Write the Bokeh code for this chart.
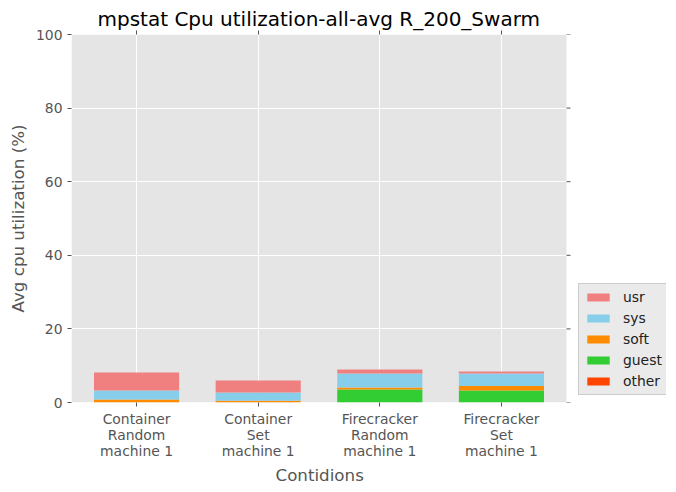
from bokeh.plotting import figure
from bokeh.models import (ColumnDataSource, Range1d, FixedTicker, LinearAxis, Legend,
                          LegendItem, Title, BoxAnnotation)
from bokeh.embed import file_html
from bokeh.resources import INLINE

conditions = ["Container\nRandom\nmachine 1", "Container\nSet\nmachine 1",
              "Firecracker\nRandom\nmachine 1", "Firecracker\nSet\nmachine 1"]
other = [0.0, 0.0, 0.0, 0.0]
guest = [0.0, 0.0, 3.5, 3.25]
soft = [0.8, 0.5, 0.55, 1.2]
sys_ = [2.45, 2.2, 3.8, 3.45]
usr = [4.9, 3.3, 1.1, 0.55]

series = ["other", "guest", "soft", "sys", "usr"]
colors = ["#FF4500", "#32CD32", "#FF8C00", "#87CEEB", "#F08080"]
yticks = [0, 20, 40, 60, 80, 100]

xs = list(range(len(conditions)))
src = ColumnDataSource(dict(x=xs, other=other, guest=guest, soft=soft, sys=sys_, usr=usr))

FONT = "DejaVu Sans"
GREY = "#555555"

# plotting area spans x from X0 to X1; the frame is widened to host the legend
X0, X1 = -0.535, 3.535
AREA_W = 495
PX = (X1 - X0) / AREA_W          # data units per pixel
FRAME_W = 595

p = figure(frame_width=FRAME_W, frame_height=368, output_backend="svg", toolbar_location=None,
           x_range=Range1d(X0, X0 + FRAME_W * PX), y_range=Range1d(0, 100),
           min_border_left=71, min_border_right=10, min_border_top=34, min_border_bottom=90)
p.title = None
p.background_fill_color = "white"
p.border_fill_color = "white"
p.outline_line_color = None

p.add_layout(BoxAnnotation(left=X0, right=X1, fill_color="#E5E5E5", fill_alpha=1.0,
                           line_color=None, level="image"))

renderers = p.vbar_stack(series, x="x", width=0.7, source=src, color=colors, line_color=None)

# right-side tick marks at the edge of the plotting area
p.segment(x0=[X1] * len(yticks), x1=[X1 + 4 * PX] * len(yticks), y0=yticks, y1=yticks,
          line_color=GREY, line_width=1)

p.xaxis.ticker = FixedTicker(ticks=xs)
p.xaxis.major_label_overrides = {i: c for i, c in enumerate(conditions)}
p.yaxis.ticker = FixedTicker(ticks=yticks)
p.xgrid.ticker = FixedTicker(ticks=xs)
p.ygrid.ticker = FixedTicker(ticks=yticks)
p.grid.grid_line_color = "white"
p.grid.grid_line_width = 1

for ax in (p.xaxis[0], p.yaxis[0]):
    ax.axis_line_color = None
    ax.major_tick_line_color = GREY
    ax.major_tick_in = 0
    ax.major_tick_out = 4
    ax.minor_tick_line_color = None
    ax.major_label_text_font = FONT
    ax.major_label_text_font_size = "13.9px"
    ax.major_label_text_color = GREY
    ax.axis_label_text_font = FONT
    ax.axis_label_text_font_size = "16.7px"
    ax.axis_label_text_font_style = "normal"
    ax.axis_label_text_color = GREY

p.yaxis.axis_label = "Avg cpu utilization (%)"
p.xaxis.major_label_standoff = 4
p.xaxis.major_label_text_line_height = 1.0
p.yaxis.major_label_standoff = 5

p.add_layout(Title(text="Contidions", align="left", text_font=FONT, text_font_size="16.7px",
                   text_color=GREY, text_font_style="normal", standoff=2, offset=204), "below")

top = LinearAxis(ticker=FixedTicker(ticks=xs), axis_line_color=None, major_tick_line_color=GREY,
                 major_tick_in=0, major_tick_out=4, minor_tick_line_color=None,
                 major_label_overrides={i: "" for i in xs}, major_label_standoff=0)
p.add_layout(top, "above")

p.add_layout(Title(text="mpstat Cpu utilization-all-avg R_200_Swarm", align="left",
                   text_font=FONT, text_font_size="20px", text_color="black",
                   text_font_style="normal", standoff=0, offset=26), "above")

items = [LegendItem(label=s, renderers=[r]) for s, r in zip(series, renderers)][::-1]
legend = Legend(items=items, location=(507, 7), orientation="vertical",
                label_text_font=FONT, label_text_font_size="13.9px", label_text_color="#222222",
                glyph_width=28, glyph_height=10, label_height=14, spacing=5,
                label_standoff=11, padding=5, margin=0,
                background_fill_color="#E5E5E5", background_fill_alpha=0.8,
                border_line_color="#CCCCCC", border_line_alpha=1.0)
p.add_layout(legend)

open("out.html", "w").write(file_html(p, INLINE))
